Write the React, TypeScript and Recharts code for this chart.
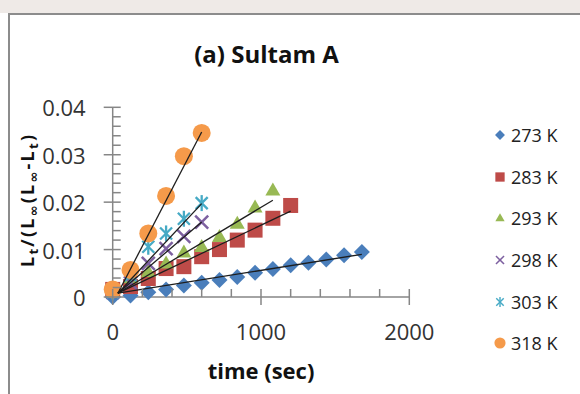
import { ScatterChart, Scatter, XAxis, YAxis, Legend } from 'recharts';

const FONT = '"Open Sans", "Liberation Sans", sans-serif';
const AXIS = '#868686';

// sample times (sec), every series starts at 0
const times = [0, 120, 240, 360, 480, 600, 720, 840, 960, 1080, 1200, 1320, 1440, 1560, 1680];

const seriesNames = ['273 K', '283 K', '293 K', '298 K', '303 K', '318 K'];
const seriesColors = ['#4a7ebb', '#be4b48', '#98b954', '#7d60a0', '#46aac5', '#f59a4a'];
const seriesShapes = ['diamond', 'square', 'triangle', 'x', 'asterisk', 'circle'];

const s273 = [0, 0.0003, 0.001, 0.0016, 0.0024, 0.003, 0.0036, 0.0042, 0.0051, 0.0059, 0.0067, 0.0072, 0.0079, 0.0088, 0.0095];
const s283 = [0.0016, 0.0022, 0.0039, 0.006, 0.0064, 0.0085, 0.01, 0.012, 0.0141, 0.0166, 0.0193];
const s293 = [0.001, 0.004, 0.0053, 0.0071, 0.0094, 0.0106, 0.0127, 0.0155, 0.0189, 0.0225];
const s298 = [0.001, 0.003, 0.0071, 0.0102, 0.0128, 0.0158];
const s303 = [0.001, 0.0046, 0.0106, 0.0134, 0.0165, 0.0198];
const s318 = [0.0016, 0.0057, 0.0134, 0.0213, 0.0297, 0.0346];
const seriesValues = [s273, s283, s293, s298, s303, s318];

// linear trendlines: common start, end point per series
const trendStart = { t: 35, v: 0.0008 };
const trendEndT = [1680, 1200, 1080, 600, 600, 600];
const trendEndV = [0.009, 0.0181, 0.0204, 0.0158, 0.0197, 0.0348];

const xTicks = [0, 200, 400, 600, 800, 1000, 1200, 1400, 1600, 1800, 2000];
const yTicks = [0, 0.002, 0.004, 0.006, 0.008, 0.01, 0.012, 0.014, 0.016, 0.018, 0.02, 0.022, 0.024, 0.026, 0.028, 0.03, 0.032, 0.034, 0.036, 0.038, 0.04];

const seriesData = seriesValues.map((vals) => vals.map((v, i) => ({ t: times[i], v })));
const trendData = trendEndT.map((t, i) => [trendStart, { t, v: trendEndV[i] }]);

function Marker({ kind, cx, cy, color, scale = 1 }: any) {
  const s = scale;
  if (kind === 'diamond') {
    const r = 8 * s;
    return <polygon points={`${cx},${cy - r} ${cx + r},${cy} ${cx},${cy + r} ${cx - r},${cy}`} fill={color} />;
  }
  if (kind === 'square') {
    const h = 7.5 * s;
    return <rect x={cx - h} y={cy - h} width={2 * h} height={2 * h} fill={color} />;
  }
  if (kind === 'triangle') {
    const w = 7.5 * s;
    const h = 13 * s;
    return <polygon points={`${cx},${cy - h * 0.6} ${cx + w},${cy + h * 0.4} ${cx - w},${cy + h * 0.4}`} fill={color} />;
  }
  if (kind === 'x') {
    const r = 6.5 * s;
    return (
      <g stroke={color} strokeWidth={2.5 * s}>
        <line x1={cx - r} y1={cy - r} x2={cx + r} y2={cy + r} />
        <line x1={cx - r} y1={cy + r} x2={cx + r} y2={cy - r} />
      </g>
    );
  }
  if (kind === 'asterisk') {
    const r = 6 * s;
    return (
      <g stroke={color} strokeWidth={2.3 * s}>
        <line x1={cx - r} y1={cy - r} x2={cx + r} y2={cy + r} />
        <line x1={cx - r} y1={cy + r} x2={cx + r} y2={cy - r} />
        <line x1={cx} y1={cy - 8 * s} x2={cx} y2={cy + 8 * s} />
      </g>
    );
  }
  return <circle cx={cx} cy={cy} r={9 * s} fill={color} />;
}

function YTick(props: any) {
  const { x, y, payload } = props;
  const v = payload.value;
  const major = Math.abs(v * 100 - Math.round(v * 100)) < 1e-6;
  if (!major) return <line x1={x} x2={x + 8} y1={y} y2={y} stroke={AXIS} strokeWidth={1.5} />;
  return (
    <g>
      <line x1={x - 9} x2={x + 8} y1={y} y2={y} stroke={AXIS} strokeWidth={1.5} />
      <text x={x - 27} y={y + 9} textAnchor="end" fontFamily={FONT} fontSize={22} fill="#333">
        {v === 0 ? '0' : v.toFixed(2)}
      </text>
    </g>
  );
}

function XTick(props: any) {
  const { x, y, payload } = props;
  const v = payload.value;
  const major = v % 1000 === 0;
  if (!major) return <line x1={x} x2={x} y1={y - 8} y2={y} stroke={AXIS} strokeWidth={1.5} />;
  return (
    <g>
      <line x1={x} x2={x} y1={y - 8} y2={y + 8} stroke={AXIS} strokeWidth={1.5} />
      <text x={x} y={y + 43} textAnchor="middle" fontFamily={FONT} fontSize={22} fill="#333">
        {v}
      </text>
    </g>
  );
}

function renderLegend(props: any) {
  const { payload } = props;
  // trendlines are not listed
  const items = (payload || []).filter((entry: any) => seriesNames.indexOf(entry.value) >= 0);
  return (
    <div style={{ fontFamily: FONT, fontSize: 18, color: '#222' }}>
      {items.map((entry: any, index: number) => {
        const i = seriesNames.indexOf(entry.value);
        return (
          <div key={`item-${index}`} style={{ height: 41.7, display: 'flex', alignItems: 'center' }}>
            <svg width={20} height={20}>
              <Marker kind={seriesShapes[i]} cx={10} cy={10} color={seriesColors[i]} scale={0.62} />
            </svg>
            <span style={{ marginLeft: 1 }}>{entry.value}</span>
          </div>
        );
      })}
    </div>
  );
}

export default function App() {
  return (
    <div style={{ position: 'absolute', left: 0, top: 0, width: 580, height: 394, background: '#fff', overflow: 'hidden' }}>
      <ScatterChart width={580} height={394} margin={{ top: 107.3, right: 170.7, bottom: 67, left: 52.7 }}>
        <XAxis
          type="number"
          dataKey="t"
          domain={[0, 2000]}
          ticks={xTicks}
          interval={0}
          height={30}
          tickSize={0}
          tickMargin={0}
          tickLine={false}
          tick={<XTick />}
          axisLine={{ stroke: AXIS, strokeWidth: 1.5 }}
        />
        <YAxis
          type="number"
          dataKey="v"
          domain={[0, 0.04]}
          ticks={yTicks}
          interval={0}
          width={60}
          tickSize={0}
          tickMargin={0}
          tickLine={false}
          tick={<YTick />}
          axisLine={{ stroke: AXIS, strokeWidth: 1.5 }}
        />
        {seriesData.map((d, i) => (
          <Scatter
            key={seriesNames[i]}
            name={seriesNames[i]}
            data={d}
            fill={seriesColors[i]}
            isAnimationActive={false}
            shape={(p: any) => <Marker kind={seriesShapes[i]} cx={p.cx} cy={p.cy} color={seriesColors[i]} />}
          />
        ))}
        {trendData.map((d, i) => (
          <Scatter
            key={`trend-${i}`}
            name={`trend ${seriesNames[i]}`}
            data={d}
            legendType="none"
            line={{ stroke: '#1e1e1e', strokeWidth: 1.3 }}
            shape={() => <g />}
            isAnimationActive={false}
          />
        ))}
        <Legend
          layout="vertical"
          align="center"
          verticalAlign="middle"
          content={renderLegend}
          wrapperStyle={{ left: 490, top: 114.2, width: 90 }}
        />
      </ScatterChart>

      {/* frame and background strip of the original figure */}
      <div style={{ position: 'absolute', left: 0, top: 0, width: 580, height: 13, background: '#efeae7' }} />
      <div style={{ position: 'absolute', left: 8, top: 13, width: 572, height: 2, background: '#8c8c8c' }} />
      <div style={{ position: 'absolute', left: 8, top: 13, width: 1.5, height: 381, background: '#8c8c8c' }} />

      <svg width={580} height={394} style={{ position: 'absolute', left: 0, top: 0, pointerEvents: 'none' }}>
        <text x={266.5} y={63} textAnchor="middle" fontFamily={FONT} fontWeight="bold" fontSize={24} fill="#111">
          (a) Sultam A
        </text>
        <text x={261} y={379} textAnchor="middle" fontFamily={FONT} fontWeight="bold" fontSize={22} fill="#111">
          time (sec)
        </text>
        <text
          x={34}
          y={201}
          transform="rotate(-90, 34, 201)"
          textAnchor="middle"
          fontFamily={FONT}
          fontWeight="bold"
          fontSize={18}
          fill="#111"
          textLength={132}
          lengthAdjust="spacing"
        >
          L<tspan dy={4} fontSize={13}>t</tspan>
          <tspan dy={-4}>/(L</tspan>
          <tspan dy={4} fontSize={13} fontFamily='"DejaVu Sans", sans-serif'>∞</tspan>
          <tspan dy={-4}>(L</tspan>
          <tspan dy={4} fontSize={13} fontFamily='"DejaVu Sans", sans-serif'>∞</tspan>
          <tspan dy={-4}>-L</tspan>
          <tspan dy={4} fontSize={13}>t</tspan>
          <tspan dy={-4}>)</tspan>
        </text>
      </svg>
    </div>
  );
}
